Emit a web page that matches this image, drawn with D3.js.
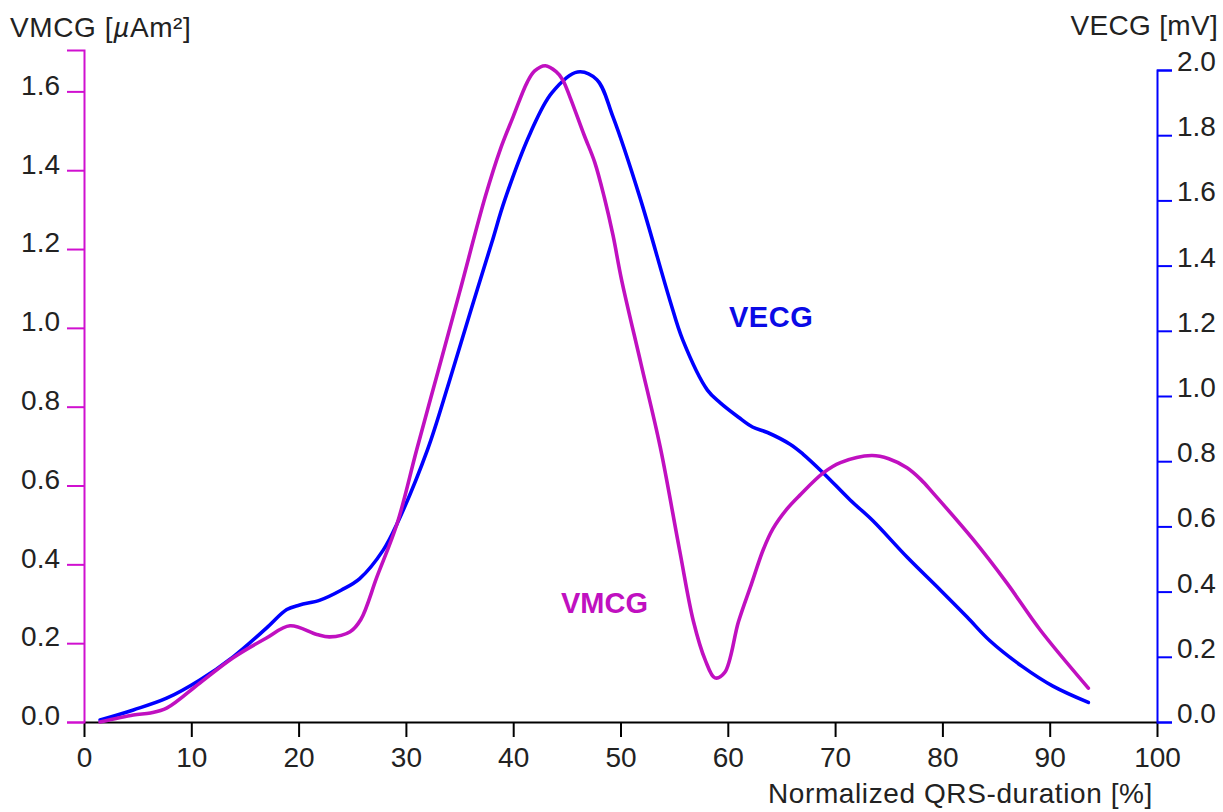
<!DOCTYPE html>
<html>
<head>
<meta charset="utf-8">
<script src="https://cdn.jsdelivr.net/npm/d3@7"></script>
<style>
  html, body { margin: 0; padding: 0; background: #fff; }
  svg { display: block; font-family: "Liberation Sans", Arial, sans-serif; }
</style>
</head>
<body>
<svg id="chart" width="1223" height="812"></svg>
<script>
// ---------- data ----------
const xTicks = [0, 10, 20, 30, 40, 50, 60, 70, 80, 90, 100];
const leftTicks = [0.0, 0.2, 0.4, 0.6, 0.8, 1.0, 1.2, 1.4, 1.6];
const rightTicks = [0.0, 0.2, 0.4, 0.6, 0.8, 1.0, 1.2, 1.4, 1.6, 1.8, 2.0];

// VMCG [µAm²] (left axis)
const vmcgX = [1.5, 4.6, 6.2, 7.7, 10.8, 13.9, 17.0, 19.2, 21.7, 22.9, 24.8, 25.8, 27.3, 29.2, 31.0, 33.0, 35.0, 37.4, 38.8, 40.0, 41.3, 42.0, 43.0, 44.0, 44.6, 45.3, 46.6, 47.6, 48.5, 49.3, 50.1, 51.9, 53.7, 55.5, 56.8, 57.9, 58.8, 59.7, 61.0, 62.2, 63.3, 64.2, 65.5, 66.7, 68.9, 70.5, 73.4, 75.0, 76.7, 78.0, 79.1, 82.9, 86.0, 89.1, 93.6];
const vmcgY = [0.0, 0.018, 0.023, 0.035, 0.099, 0.163, 0.213, 0.244, 0.222, 0.216, 0.229, 0.26, 0.368, 0.505, 0.69, 0.89, 1.09, 1.333, 1.453, 1.536, 1.623, 1.652, 1.665, 1.65, 1.63, 1.585, 1.49, 1.42, 1.33, 1.235, 1.122, 0.91, 0.698, 0.437, 0.255, 0.157, 0.112, 0.125, 0.255, 0.35, 0.437, 0.49, 0.54, 0.575, 0.632, 0.658, 0.676, 0.668, 0.645, 0.615, 0.582, 0.462, 0.353, 0.234, 0.086];

// VECG [mV] (right axis)
const vecgX = [1.5, 4.6, 7.7, 10.8, 13.9, 17.0, 18.9, 20.1, 22.0, 24.0, 25.7, 27.9, 29.2, 32.0, 34.0, 36.0, 38.0, 39.2, 41.6, 43.6, 46.0, 47.8, 49.3, 51.8, 54.6, 55.8, 58.1, 59.3, 61.0, 62.3, 63.7, 65.8, 67.0, 68.9, 71.4, 73.5, 76.7, 79.8, 82.3, 84.4, 87.5, 90.3, 93.6];
const vecgY = [0.006, 0.037, 0.073, 0.129, 0.2, 0.288, 0.345, 0.359, 0.374, 0.405, 0.44, 0.528, 0.61, 0.834, 1.04, 1.257, 1.47, 1.60, 1.807, 1.93, 1.994, 1.97, 1.856, 1.61, 1.294, 1.172, 1.018, 0.979, 0.935, 0.905, 0.888, 0.852, 0.822, 0.764, 0.681, 0.618, 0.506, 0.405, 0.322, 0.25, 0.169, 0.11, 0.06];

// ---------- layout ----------
const svg = d3.select("#chart");
const X0 = 84, X1 = 1157, Y0 = 722;
const magentaAxis = "#d010d0", magentaLine = "#c010c0", blue = "#0000ff", textCol = "#222";
const font = "Liberation Sans, Arial, sans-serif";

const x = d3.scaleLinear().domain([0, 100]).range([X0, X1]);
const yL = d3.scaleLinear().domain([0, 1.705]).range([Y0, 50]);
const yR = d3.scaleLinear().domain([0, 2.0]).range([Y0, 70]);

// X axis
const gx = svg.append("g").attr("transform", `translate(0,${Y0})`)
  .call(d3.axisBottom(x).tickValues(xTicks).tickSize(15).tickSizeOuter(0).tickPadding(10).tickFormat(d3.format("d")));
gx.select(".domain").attr("stroke", "#000").attr("stroke-width", 2);
gx.selectAll(".tick line").attr("stroke", "#000").attr("stroke-width", 2);
gx.selectAll(".tick text").attr("fill", textCol).attr("font-size", 28).attr("font-family", font);

// Left axis
const gl = svg.append("g").attr("transform", `translate(${X0},0)`)
  .call(d3.axisLeft(yL).tickValues(leftTicks).tickSize(17).tickSizeOuter(17).tickPadding(7).tickFormat(d3.format(".1f")));
gl.select(".domain").attr("stroke", magentaAxis).attr("stroke-width", 2);
gl.selectAll(".tick line").attr("stroke", magentaAxis).attr("stroke-width", 2);
gl.selectAll(".tick text").attr("fill", textCol).attr("font-size", 28).attr("dy", "0.1em").attr("font-family", font);

// Right axis
const gr = svg.append("g").attr("transform", `translate(${X1},0)`)
  .call(d3.axisRight(yR).tickValues(rightTicks).tickSize(15).tickSizeOuter(15).tickPadding(5).tickFormat(d3.format(".1f")));
gr.select(".domain").attr("stroke", blue).attr("stroke-width", 2);
gr.selectAll(".tick line").attr("stroke", blue).attr("stroke-width", 2);
gr.selectAll(".tick text").attr("fill", textCol).attr("font-size", 28).attr("dy", "0.02em").attr("font-family", font);

// Lines
const vmcg = vmcgX.map((d, i) => [d, vmcgY[i]]);
const vecg = vecgX.map((d, i) => [d, vecgY[i]]);
const lineL = d3.line().x(d => x(d[0])).y(d => yL(d[1])).curve(d3.curveCatmullRom.alpha(0.5));
const lineR = d3.line().x(d => x(d[0])).y(d => yR(d[1])).curve(d3.curveCatmullRom.alpha(0.5));

svg.append("path").datum(vecg).attr("d", lineR).attr("fill", "none")
  .attr("stroke", blue).attr("stroke-width", 3.6).attr("stroke-linejoin", "round").attr("stroke-linecap", "round");
svg.append("path").datum(vmcg).attr("d", lineL).attr("fill", "none")
  .attr("stroke", magentaLine).attr("stroke-width", 3.6).attr("stroke-linejoin", "round").attr("stroke-linecap", "round");

// Titles
const tl = svg.append("text").attr("x", 10).attr("y", 37).attr("font-size", 28).attr("fill", textCol).attr("letter-spacing", 0.6);
tl.append("tspan").text("VMCG [");
tl.append("tspan").attr("font-style", "italic").text("µ");
tl.append("tspan").text("Am²]");

svg.append("text").attr("x", 1218).attr("y", 35).attr("text-anchor", "end")
  .attr("font-size", 28).attr("fill", textCol).attr("letter-spacing", 0.3).text("VECG [mV]");

svg.append("text").attr("x", 1153).attr("y", 803).attr("text-anchor", "end")
  .attr("font-size", 28).attr("fill", textCol).attr("letter-spacing", 0.6).text("Normalized QRS-duration [%]");

// Series labels
svg.append("text").attr("x", 729).attr("y", 327).attr("font-size", 29).attr("font-weight", "bold")
  .attr("fill", "#0a0ae6").attr("letter-spacing", 0.5).text("VECG");
svg.append("text").attr("x", 561).attr("y", 613).attr("font-size", 29).attr("font-weight", "bold")
  .attr("fill", magentaLine).text("VMCG");
</script>
</body>
</html>
